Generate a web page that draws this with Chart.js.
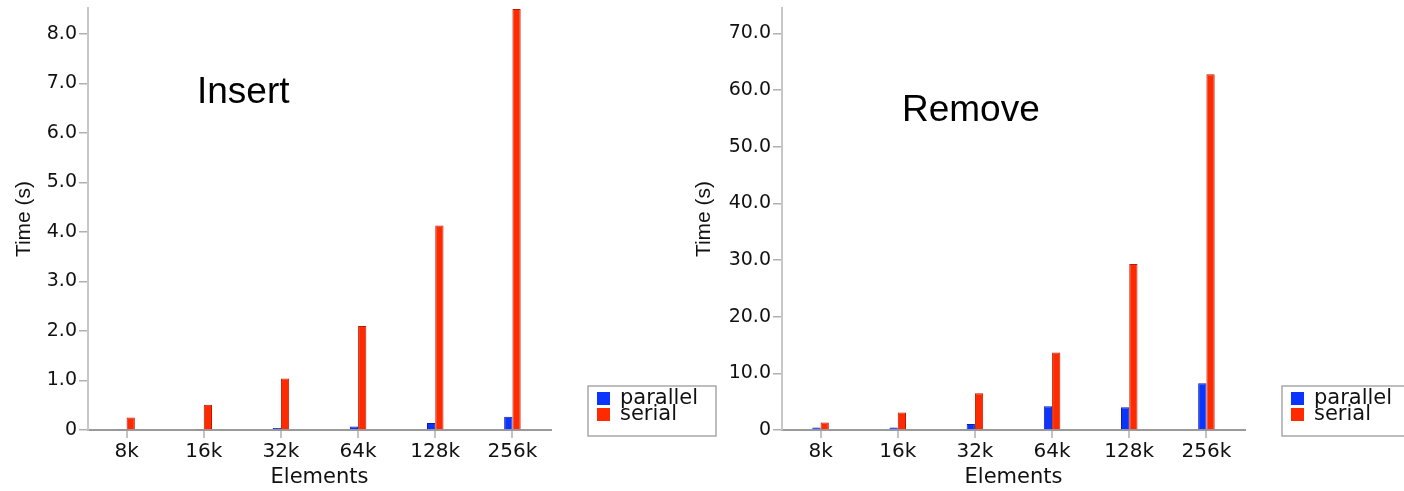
<!DOCTYPE html>
<html><head><meta charset="utf-8">
<script src="https://cdn.jsdelivr.net/npm/chart.js@4.4.1/dist/chart.umd.min.js"></script>
<style>
html,body{margin:0;padding:0;background:#fff;width:1404px;height:491px;overflow:hidden;}
.wrap{position:absolute;top:0;height:491px;}
#w1{left:0;width:720px;}
#w2{left:690px;width:714px;}
</style></head><body>
<div class="wrap" id="w1"><canvas id="c1"></canvas></div>
<div class="wrap" id="w2"><canvas id="c2"></canvas></div>
<script>
const categories = ['8k', '16k', '32k', '64k', '128k', '256k'];
const seriesNames = ['parallel', 'serial'];
const insertParallel = [0.02, 0.02, 0.04, 0.07, 0.14, 0.27];
const insertSerial = [0.25, 0.51, 1.04, 2.1, 4.13, 8.5];
const removeParallel = [0.46, 0.46, 1.06, 4.2, 4.0, 8.25];
const removeSerial = [1.34, 3.1, 6.5, 13.7, 29.3, 62.8];
const insertYTicks = [0, 1, 2, 3, 4, 5, 6, 7, 8];
const removeYTicks = [0, 10, 20, 30, 40, 50, 60, 70];
const panelTitles = ['Insert', 'Remove'];
const xTitle = 'Elements';
const yTitle = 'Time (s)';

const COLORS = { parallel: '#0b35ff', serial: '#ff2a00' };
const BORDERS = { parallel: '#0a22a8', serial: '#b81c00' };

const decorPlugin = {
  id: 'decor',
  afterDraw(chart, args, opts) {
    const ctx = chart.ctx, a = chart.chartArea;
    ctx.save();
    ctx.font = '37px "Liberation Sans", Arial, sans-serif';
    ctx.fillStyle = '#000';
    ctx.textAlign = 'left';
    ctx.textBaseline = 'alphabetic';
    ctx.fillText(opts.title, a.left + opts.titleDx, a.top + opts.titleDy);
    const lx = a.right + 37, ly = a.bottom - 44, lw = 128, lh = 50;
    ctx.fillStyle = '#fff';
    ctx.fillRect(lx, ly, lw, lh);
    ctx.strokeStyle = '#a8a8a8';
    ctx.lineWidth = 1.5;
    ctx.strokeRect(lx, ly, lw, lh);
    chart.data.datasets.forEach((ds, i) => {
      const y = ly + 6 + i * 16;
      ctx.fillStyle = ds.backgroundColor;
      ctx.fillRect(lx + 9, y, 13, 13);
      ctx.fillStyle = '#111';
      ctx.font = '21px "DejaVu Sans", sans-serif';
      ctx.textBaseline = 'middle';
      ctx.fillText(ds.label, lx + 32, y + 7);
    });
    ctx.restore();
  }
};

function makeChart(id, title, par, ser, yTicks, yMax, yAxisWidth, padRight, titleDx, titleDy, yTitlePad) {
  return new Chart(document.getElementById(id), {
    type: 'bar',
    data: {
      labels: categories,
      datasets: [
        { label: seriesNames[0], data: par, backgroundColor: COLORS.parallel, borderColor: BORDERS.parallel, borderWidth: 1 },
        { label: seriesNames[1], data: ser, backgroundColor: COLORS.serial, borderColor: BORDERS.serial, borderWidth: 1 }
      ]
    },
    options: {
      responsive: true,
      maintainAspectRatio: false,
      animation: false,
      events: [],
      categoryPercentage: 0.214,
      barPercentage: 1,
      layout: { padding: { top: 8, left: 0, right: padRight, bottom: 0 } },
      plugins: {
        legend: { display: false },
        tooltip: { enabled: false },
        decor: { title: title, titleDx: titleDx, titleDy: titleDy }
      },
      scales: {
        x: {
          afterFit: (s) => { s.height = 61; s.paddingLeft = 0; s.paddingRight = 0; },
          grid: { offset: false, drawOnChartArea: false, tickLength: 8, color: '#c4c4c4', lineWidth: 2 },
          border: { color: '#9a9a9a', width: 2 },
          ticks: { font: { family: '"DejaVu Sans", sans-serif', size: 20 }, color: '#111', padding: 2, maxRotation: 0 },
          title: { display: true, text: xTitle, font: { family: '"DejaVu Sans", sans-serif', size: 21 }, color: '#111', padding: { top: 0, bottom: 1 } }
        },
        y: {
          min: 0,
          max: yMax,
          afterFit: (s) => { s.width = yAxisWidth; s.paddingTop = 0; s.paddingBottom = 0; },
          afterBuildTicks: (s) => { s.ticks = yTicks.map(v => ({ value: v })); },
          grid: { drawOnChartArea: false, tickLength: 9, color: '#b0b0b0', lineWidth: 1.5 },
          border: { color: '#c8c8c8', width: 2 },
          ticks: {
            font: { family: '"DejaVu Sans", sans-serif', size: 19 },
            color: '#111',
            padding: 2,
            callback: (v) => v === 0 ? '0' : Number(v).toFixed(1)
          },
          title: { display: true, text: yTitle, font: { family: '"Liberation Sans", Arial, sans-serif', size: 21 }, color: '#111', padding: { top: yTitlePad, bottom: 0 } }
        }
      }
    },
    plugins: [decorPlugin]
  });
}

makeChart('c1', panelTitles[0], insertParallel, insertSerial, insertYTicks, 8.52, 88, 169, 109, 95, 12);
makeChart('c2', panelTitles[1], removeParallel, removeSerial, removeYTicks, 74.5, 92, 159, 120, 113, 2);
</script>
</body></html>
